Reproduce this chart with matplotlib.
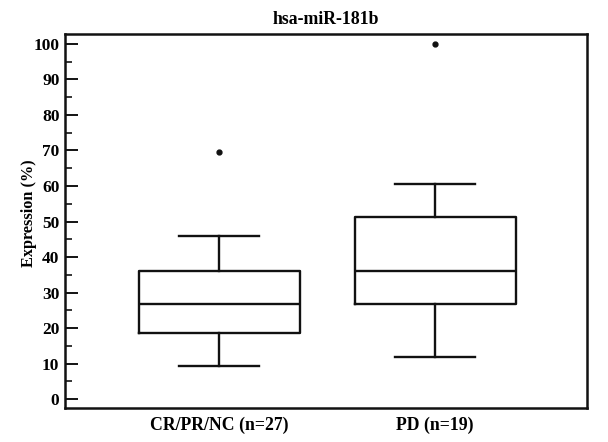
import matplotlib
matplotlib.use("Agg")
import matplotlib.pyplot as plt
from matplotlib.ticker import MultipleLocator

plt.rcParams['font.family'] = ['Liberation Serif', 'DejaVu Serif']
plt.rcParams['font.weight'] = 'bold'

# box statistics
groups = ["CR/PR/NC (n=27)", "PD (n=19)"]
whislo = [9.3, 11.8]
q1 = [18.6, 26.8]
med = [26.8, 36.2]
q3 = [36.2, 51.3]
whishi = [45.8, 60.5]
fliers = [[69.7], [100.0]]

stats = []
for i in range(len(groups)):
    stats.append(dict(label=groups[i], whislo=whislo[i], q1=q1[i], med=med[i],
                      q3=q3[i], whishi=whishi[i], fliers=fliers[i]))

fig = plt.figure(figsize=(6.08, 4.42), dpi=100)
ax = fig.add_axes([65/608, 1 - 408/442, 522/608, 374/442])

lw = 1.7
ax.bxp(stats, positions=[1, 2], widths=0.745,
       boxprops=dict(color='#111111', linewidth=lw),
       medianprops=dict(color='#111111', linewidth=lw),
       whiskerprops=dict(color='#111111', linewidth=lw),
       capprops=dict(color='#111111', linewidth=lw),
       flierprops=dict(marker='o', markersize=3.5, markerfacecolor='#111111',
                       markeredgecolor='#111111'))

ax.set_xlim(0.287, 2.703)
ax.set_ylim(-2.5, 102.8)
ax.yaxis.set_major_locator(MultipleLocator(10))
ax.yaxis.set_minor_locator(MultipleLocator(5))
ax.tick_params(axis='y', which='major', direction='in', length=9, width=1.3,
               labelsize=12.5, pad=4, right=False)
ax.tick_params(axis='y', which='minor', direction='in', length=5, width=1.1, right=False)
ax.tick_params(axis='x', length=0, labelsize=12.8, pad=6)
for s in ax.spines.values():
    s.set_linewidth(1.8)
    s.set_color('#111111')

ax.set_ylabel("Expression (%)", fontsize=11.7, fontweight='bold')
ax.yaxis.set_label_coords(-28/522, 0.52)
ax.set_title("hsa-miR-181b", fontsize=12.8, fontweight='bold', pad=7)

fig.savefig("out.png", dpi=100)
